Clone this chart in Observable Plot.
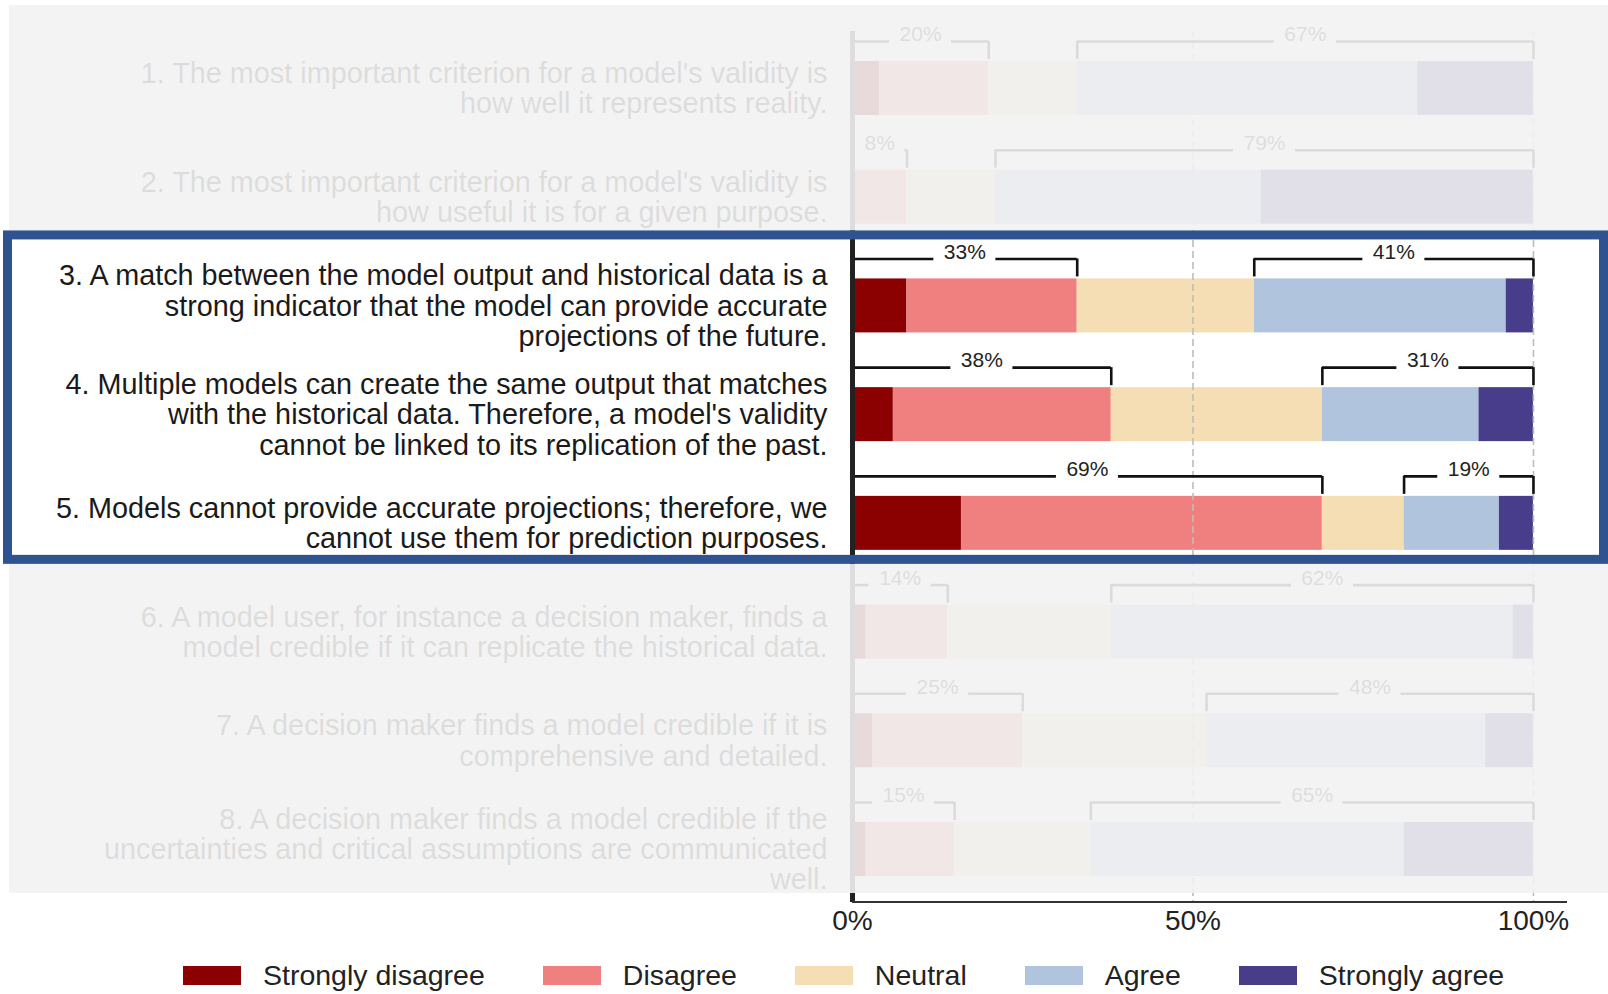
<!DOCTYPE html>
<html><head><meta charset="utf-8">
<script src="https://cdn.jsdelivr.net/npm/d3@7"></script>
<script src="https://cdn.jsdelivr.net/npm/@observablehq/plot@0.6"></script>
<style>
html,body{margin:0;padding:0;background:#fff;overflow:hidden;}
#chart{position:relative;width:1608px;height:994px;font-family:"Liberation Sans",Arial,sans-serif;}
#legend{position:absolute;left:183px;top:955px;height:40px;display:flex;align-items:center;}
.lk-swatches{margin:0 !important;}
.lk-swatch{margin-right:58px !important;}
.lk-swatch > svg{margin-right:22px !important;}
</style></head><body><div id="chart"><div id="plot"></div><div id="legend"></div></div>
<script>
const questions = [
  "1. The most important criterion for a model's validity is\nhow well it represents reality.",
  "2. The most important criterion for a model's validity is\nhow useful it is for a given purpose.",
  "3. A match between the model output and historical data is a\nstrong indicator that the model can provide accurate\nprojections of the future.",
  "4. Multiple models can create the same output that matches\nwith the historical data. Therefore, a model's validity\ncannot be linked to its replication of the past.",
  "5. Models cannot provide accurate projections; therefore, we\ncannot use them for prediction purposes.",
  "6. A model user, for instance a decision maker, finds a\nmodel credible if it can replicate the historical data.",
  "7. A decision maker finds a model credible if it is\ncomprehensive and detailed.",
  "8. A decision maker finds a model credible if the\nuncertainties and critical assumptions are communicated\nwell."
];
const levels = ["Strongly disagree", "Disagree", "Neutral", "Agree", "Strongly agree"];
const colors = ["#8b0000", "#f08080", "#f5deb3", "#b0c4de", "#483d8b"];
const stronglyDisagree = [4, 0, 8, 6, 16, 2, 3, 2];
const disagree         = [16, 8, 25, 32, 53, 12, 22, 13];
const neutral          = [13, 13, 26, 31, 12, 24, 27, 20];
const agree            = [50, 39, 37, 23, 14, 59, 41, 46];
const stronglyAgree    = [17, 40, 4, 8, 5, 3, 7, 19];
const xTicks = [0, 50, 100];
const xTickLabels = ["0%", "50%", "100%"];
const highlightRows = [3, 4, 5];

const series = [stronglyDisagree, disagree, neutral, agree, stronglyAgree];
const W = 1608, H = 945, mL = 852, mR = 41, mT = 35, mB = 43;
const padIn = 0.5035, padOut = 0.239;
const step = (H - mT - mB) / (questions.length - padIn + 2 * padOut);
const bw = step * (1 - padIn);
const xMax = 105;
const pxPerUnit = (W - mL - mR) / xMax;
const FONT = "'Liberation Sans', Arial, sans-serif";

const tidy = questions.flatMap((q, i) => levels.map((lev, j) => ({q, level: lev, value: series[j][i]})));

const ctx = document.createElement("canvas").getContext("2d");
ctx.font = "21px 'Liberation Sans', Arial, sans-serif";
const brackets = questions.flatMap((q, i) => {
  const dis = stronglyDisagree[i] + disagree[i];
  const agr = agree[i] + stronglyAgree[i];
  return [{q, x1: 0, x2: dis, label: dis + "%"}, {q, x1: 100 - agr, x2: 100, label: agr + "%"}];
});
const segs = brackets.flatMap(b => {
  const mid = (b.x1 + b.x2) / 2;
  const g = (ctx.measureText(b.label).width / 2 + 10) / pxPerUnit;
  const out = [];
  if (mid - g > b.x1) out.push({q: b.q, x1: b.x1, x2: mid - g});
  if (mid + g < b.x2) out.push({q: b.q, x1: mid + g, x2: b.x2});
  return out;
});
const ends = brackets.flatMap(b => [{q: b.q, x: b.x1}, {q: b.q, x: b.x2}]);
const lineDy = -(bw / 2 + 20);

const plot = Plot.plot({
  width: W, height: H, marginLeft: mL, marginRight: mR, marginTop: mT, marginBottom: mB,
  style: {fontFamily: FONT, background: "transparent", color: "#222"},
  x: {domain: [0, xMax]},
  y: {domain: questions, paddingInner: padIn, paddingOuter: padOut, round: false, axis: null},
  color: {domain: levels, range: colors},
  marks: [
    Plot.barX(tidy, {x: "value", y: "q", fill: "level"}),
    Plot.ruleX([50, 100], {stroke: "#bdbdbd", strokeWidth: 1.6, strokeDasharray: "7,4", insetTop: -4}),
    Plot.ruleY(segs, {x1: "x1", x2: "x2", y: "q", dy: lineDy, stroke: "#111", strokeWidth: 2.6}),
    Plot.tickX(ends, {x: "x", y: "q", dy: -20, insetBottom: bw - 18, stroke: "#111", strokeWidth: 2.6}),
    Plot.text(brackets, {x: d => (d.x1 + d.x2) / 2, y: "q", text: "label", dy: lineDy - 7, fontSize: 21, fill: "#222"}),
    Plot.text(questions, {x: () => 0, y: d => d, text: d => d, dx: -25, textAnchor: "end", fontSize: 28.8, lineHeight: 1.05, fill: "#1a1a1a"}),
    Plot.ruleX([0], {stroke: "#222", strokeWidth: 5, insetTop: -4}),
    Plot.axisX({ticks: xTicks, tickFormat: d => xTickLabels[xTicks.indexOf(d)], tickSize: 0, tickPadding: 8, fontSize: 28, label: null, fill: "#222"})
  ]
});
document.getElementById("plot").appendChild(plot);

// faded overlay + highlight box + x-axis line
const xs = plot.scale("x");
const ys = plot.scale("y");
const start = q => ys.apply(q);
const first = questions[highlightRows[0] - 1];
const last = questions[highlightRows[highlightRows.length - 1] - 1];
const boxTop = start(first) - 48;
const boxBot = start(last) + bw + 14;
const fadeBot = start(questions[questions.length - 1]) + bw + 17;
const axisY = H - mB;
const svg = d3.select(plot);
svg.append("line").attr("x1", xs.apply(0)).attr("x2", xs.apply(xMax)).attr("y1", axisY).attr("y2", axisY)
  .attr("stroke", "#333").attr("stroke-width", 2.2);
svg.append("rect").attr("x", 9).attr("y", 5).attr("width", W - 9).attr("height", boxTop - 5)
  .attr("fill", "#f2f2f2").attr("fill-opacity", 0.9);
svg.append("rect").attr("x", 9).attr("y", boxBot).attr("width", W - 9).attr("height", fadeBot - boxBot)
  .attr("fill", "#f2f2f2").attr("fill-opacity", 0.9);
svg.append("rect").attr("x", 7.5).attr("y", boxTop + 4.5).attr("width", W - 12).attr("height", boxBot - boxTop - 9)
  .attr("fill", "none").attr("stroke", "#2f5291").attr("stroke-width", 9);

const legend = Plot.legend({
  color: {type: "ordinal", domain: levels, range: colors},
  legend: "swatches", swatchWidth: 58, swatchHeight: 19, className: "lk",
  style: {fontFamily: FONT, fontSize: "28.5px", color: "#222"}
});
document.getElementById("legend").appendChild(legend);
</script></body></html>
